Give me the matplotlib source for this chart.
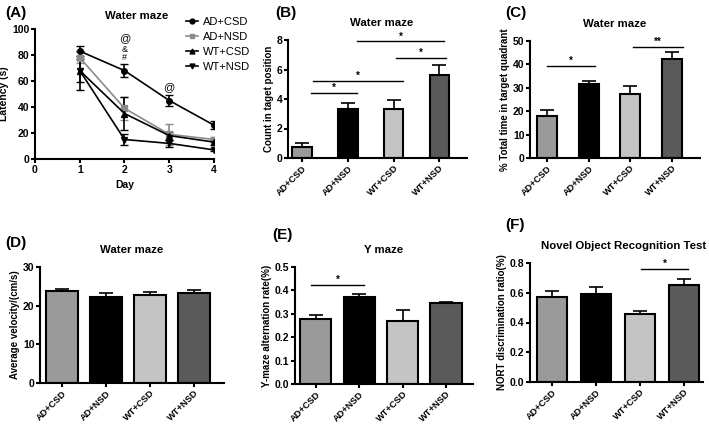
import matplotlib
matplotlib.use('Agg')
import matplotlib.pyplot as plt
from matplotlib.lines import Line2D
import numpy as np

plt.rcParams['font.family'] = ['Liberation Sans', 'DejaVu Sans']
plt.rcParams['font.weight'] = 'bold'
plt.rcParams['axes.labelweight'] = 'bold'
plt.rcParams['axes.titleweight'] = 'bold'
plt.rcParams['font.size'] = 7

# data
groups = ['AD+CSD', 'AD+NSD', 'WT+CSD', 'WT+NSD']
bar_colors = ['#9a9a9a', '#000000', '#c4c4c4', '#5a5a5a']

days = [1, 2, 3, 4]
lat_ad_csd = [83, 68, 45, 26]
lat_ad_csd_err = [4, 5, 4, 3]
lat_ad_nsd = [78, 39, 19, 15]
lat_ad_nsd_err = [4, 9, 8, 2]
lat_wt_csd = [68, 35, 18, 13]
lat_wt_csd_err = [9, 13, 3, 2]
lat_wt_nsd = [68, 15, 12, 7]
lat_wt_nsd_err = [15, 4, 3, 1]

count_target = [0.75, 3.3, 3.3, 5.6]
count_target_err = [0.25, 0.4, 0.6, 0.7]
time_quadrant = [18, 31.5, 27.3, 42.2]
time_quadrant_err = [2.5, 1.6, 3.3, 3.0]
velocity = [23.8, 22.3, 22.7, 23.2]
velocity_err = [0.6, 1.1, 0.9, 0.9]
ymaze = [0.278, 0.37, 0.268, 0.345]
ymaze_err = [0.018, 0.013, 0.05, 0.007]
nort = [0.57, 0.59, 0.46, 0.65]
nort_err = [0.04, 0.05, 0.02, 0.045]

W, H = 709, 424
fig = plt.figure(figsize=(W / 100, H / 100), dpi=100)


def make_ax(l, r, t, b):
    ax = fig.add_axes([l / W, 1 - b / H, (r - l) / W, (b - t) / H])
    for s in ['top', 'right']:
        ax.spines[s].set_visible(False)
    for s in ['left', 'bottom']:
        ax.spines[s].set_linewidth(1.5)
    ax.tick_params(width=1.5, length=3, labelsize=7.5, pad=1)
    return ax


def bar_panel(ax, vals, errs, width, xlim, ylim, yticks, ylabel, title, title_x=0.5):
    x = np.arange(len(vals))
    ax.bar(x, vals, width=width, color=bar_colors, edgecolor='black', linewidth=1.5, zorder=2)
    ax.errorbar(x, vals, yerr=[np.zeros(len(errs)), errs], fmt='none', ecolor='black',
                elinewidth=1.2, capsize=5, capthick=1.2, zorder=1)
    ax.set_xlim(*xlim)
    ax.set_ylim(*ylim)
    ax.set_yticks(yticks)
    ax.set_xticks(x)
    ax.set_xticklabels(groups, rotation=45, ha='right', va='top', rotation_mode='anchor',
                       fontsize=6.7)
    ax.tick_params(axis='x', pad=1)
    ax.set_ylabel(ylabel, fontsize=7, labelpad=2)
    ax.set_title(title, fontsize=8.2, pad=10, x=title_x)


def sig(ax, x0, x1, y, txt):
    ax.plot([x0, x1], [y, y], color='black', lw=1.0, clip_on=False)
    ax.text((x0 + x1) / 2, y, txt, ha='center', va='bottom', fontsize=7)


# (A) latency
ax = make_ax(35, 214, 29, 159)
series = [
    (lat_ad_csd, lat_ad_csd_err, 'black', 'o', 'AD+CSD'),
    (lat_ad_nsd, lat_ad_nsd_err, '#8a8a8a', 's', 'AD+NSD'),
    (lat_wt_csd, lat_wt_csd_err, 'black', '^', 'WT+CSD'),
    (lat_wt_nsd, lat_wt_nsd_err, 'black', 'v', 'WT+NSD'),
]
handles = []
for vals, errs, col, mk, lab in series:
    ax.errorbar(days, vals, yerr=errs, color=col, marker=mk, ms=4, lw=1.2, capsize=3)
    handles.append(Line2D([], [], color=col, marker=mk, ms=3.5, lw=1.2, label=lab))
ax.set_xlim(0, 4)
ax.set_ylim(0, 100)
ax.set_xticks([0, 1, 2, 3, 4])
ax.set_yticks([0, 20, 40, 60, 80, 100])
ax.set_xlabel('Day', fontsize=7.5, labelpad=4)
ax.set_ylabel('Latency (s)', fontsize=7.5, labelpad=2)
ax.set_title('Water maze', fontsize=8.2, pad=7, x=0.57)
ax.text(2, 78, '#', ha='center', va='center', fontsize=6.5, fontweight='normal')
ax.text(2, 84.5, '&', ha='center', va='center', fontsize=6.5, fontweight='normal')
ax.text(2, 93, '@', ha='center', va='center', fontsize=8, fontweight='normal')
ax.text(3, 55, '@', ha='center', va='center', fontsize=8, fontweight='normal')
leg = fig.legend(handles=handles, loc='upper left', bbox_to_anchor=(186 / W, 1 - 17 / H),
                 frameon=False, fontsize=8, handlelength=1.1, handletextpad=0.4,
                 labelspacing=0.45, borderaxespad=0, borderpad=0)
for t in leg.get_texts():
    t.set_fontweight('normal')

# (B) count
ax = make_ax(288, 467, 40, 158)
bar_panel(ax, count_target, count_target_err, 0.43, (-0.3, 3.6), (0, 8), [0, 2, 4, 6, 8],
          'Count in taget position', 'Water maze', title_x=0.525)
sig(ax, 0.2, 1.2, 4.4, '*')
sig(ax, 0.25, 2.2, 5.2, '*')
sig(ax, 2.05, 3.15, 6.8, '*')
sig(ax, 1.2, 3.1, 7.9, '*')

# (C) time in quadrant
ax = make_ax(530, 700, 41, 158)
bar_panel(ax, time_quadrant, time_quadrant_err, 0.48, (-0.41, 3.67), (0, 50), [0, 10, 20, 30, 40, 50],
          '% Total time in target quadrant', 'Water maze')
sig(ax, 0.0, 1.15, 39.5, '*')
sig(ax, 2.05, 3.25, 47.5, '**')

# (D) velocity
ax = make_ax(40, 224, 267, 383)
bar_panel(ax, velocity, velocity_err, 0.73, (-0.5, 3.68), (0, 30), [0, 10, 20, 30],
          'Average velocity/(cm/s)', 'Water maze')

# (E) Y maze
ax = make_ax(295, 473, 267, 384)
bar_panel(ax, ymaze, ymaze_err, 0.72, (-0.48, 3.62), (0, 0.5), [0.0, 0.1, 0.2, 0.3, 0.4, 0.5],
          'Y-maze alternation rate(%)', 'Y maze')
sig(ax, -0.1, 1.12, 0.425, '*')

# (F) NORT
ax = make_ax(530, 703, 263, 382)
bar_panel(ax, nort, nort_err, 0.68, (-0.5, 3.43), (0, 0.8), [0.0, 0.2, 0.4, 0.6, 0.8],
          'NORT discrimination ratio(%)', 'Novel Object Recognition Test', title_x=0.54)
ax.set_yticklabels(['0.0', '0.2', '0.4', '0.6', '0.8'])
sig(ax, 2.02, 3.09, 0.76, '*')

# panel letters
for lab, px, py in [('(A)', 5, 13), ('(B)', 275, 13), ('(C)', 505, 13),
                    ('(D)', 5, 243), ('(E)', 272, 235), ('(F)', 505, 225)]:
    fig.text(px / W, 1 - py / H, lab, fontsize=11, fontweight='bold', va='center', ha='left')

fig.savefig('out.png', dpi=100)
